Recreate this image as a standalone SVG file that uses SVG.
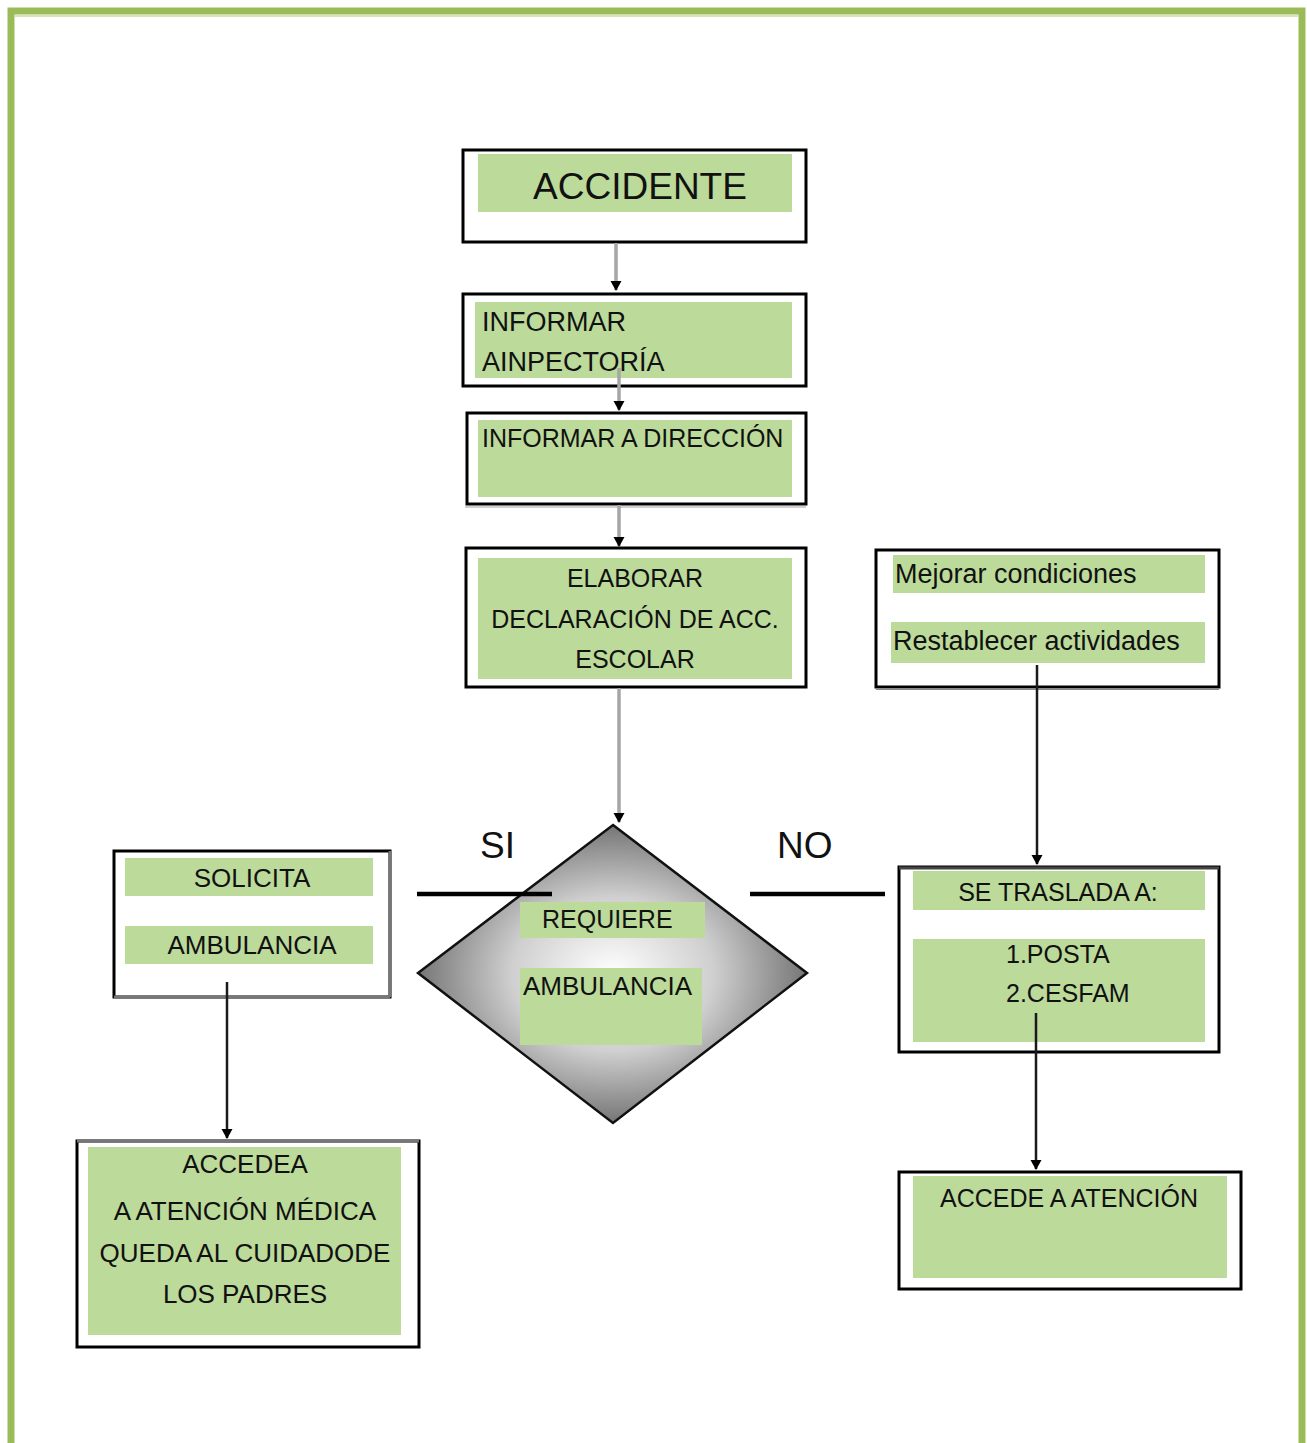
<svg xmlns="http://www.w3.org/2000/svg" width="1307" height="1443" viewBox="0 0 1307 1443">
<style>
.box{fill:#fff;stroke:#000;stroke-width:3}
.g{fill:#bcda9a}
.t{font-family:"Liberation Sans",Arial,sans-serif;fill:#111}
.c{text-anchor:middle}
.gray{stroke:#a6a6a6;stroke-width:3.5;fill:none}
.blk{stroke:#1a1a1a;stroke-width:2.5;fill:none}
.bar{stroke:#000;stroke-width:4.5}
</style>
<defs>
<marker id="ah" markerUnits="userSpaceOnUse" markerWidth="10" markerHeight="12" refX="9" refY="6" orient="auto" viewBox="0 0 10 12">
<path d="M0,0.5 L10,6 L0,11.5 Z" fill="#000"/>
</marker>
<radialGradient id="dg" cx="50%" cy="50%" r="52%">
<stop offset="0" stop-color="#ffffff"/>
<stop offset="0.5" stop-color="#cfcfcf"/>
<stop offset="1" stop-color="#6e6e6e"/>
</radialGradient>
</defs>
<rect width="1307" height="1443" fill="#fff"/>
<path d="M11,1443 V11 H1302 V1443" fill="none" stroke="#9bbb59" stroke-width="7"/>
<line x1="15" y1="16" x2="1298" y2="16" stroke="#c6dba0" stroke-width="1.5"/>

<g id="accidente">
<rect class="box" x="463" y="150" width="343" height="92"/>
<rect class="g" x="478" y="154" width="314" height="58"/>
<text class="t c" x="640" y="199" font-size="37">ACCIDENTE</text>
</g>

<g id="informar-inspectoria">
<rect class="box" x="463" y="294" width="343" height="92"/>
<rect class="g" x="475" y="302" width="317" height="76"/>
<text class="t" x="482" y="331" font-size="27">INFORMAR</text>
<text class="t" x="482" y="371" font-size="27">AINPECTORÍA</text>
</g>

<g id="informar-direccion">
<rect class="box" x="467" y="413" width="339" height="91"/>
<line x1="465" y1="507" x2="806" y2="507" stroke="#d0d0d0" stroke-width="2"/>
<rect class="g" x="478" y="420" width="314" height="77"/>
<text class="t" x="482" y="447" font-size="25">INFORMAR A DIRECCIÓN</text>
</g>

<g id="elaborar">
<rect class="box" x="466" y="548" width="340" height="139"/>
<rect class="g" x="478" y="558" width="314" height="121"/>
<text class="t c" x="635" y="587" font-size="25">ELABORAR</text>
<text class="t c" x="635" y="628" font-size="25">DECLARACIÓN DE ACC.</text>
<text class="t c" x="635" y="668" font-size="25">ESCOLAR</text>
</g>

<g id="mejorar">
<rect class="box" x="876" y="550" width="343" height="137"/>
<line x1="876" y1="689" x2="1219" y2="689" stroke="#888" stroke-width="2"/>
<rect class="g" x="893" y="555" width="312" height="38"/>
<text class="t" x="895" y="583" font-size="27">Mejorar condiciones</text>
<rect class="g" x="891" y="622" width="314" height="41"/>
<text class="t" x="893" y="650" font-size="27">Restablecer actividades</text>
</g>

<g id="requiere">
<polygon points="613,825 807,973 613,1123 418,973" fill="url(#dg)" stroke="#111" stroke-width="2.5"/>
<rect class="g" x="520" y="902" width="185" height="36"/>
<text class="t" x="542" y="928" font-size="25">REQUIERE</text>
<rect class="g" x="520" y="968" width="182" height="77"/>
<text class="t" x="523" y="995" font-size="26">AMBULANCIA</text>
</g>

<g id="solicita">
<rect class="box" x="114" y="851" width="276" height="146"/>
<line x1="390" y1="851" x2="390" y2="997" stroke="#777" stroke-width="3"/>
<line x1="114" y1="997" x2="390" y2="997" stroke="#777" stroke-width="3"/>
<rect class="g" x="125" y="858" width="248" height="38"/>
<text class="t c" x="252" y="887" font-size="26">SOLICITA</text>
<rect class="g" x="125" y="926" width="248" height="38"/>
<text class="t c" x="252" y="954" font-size="26">AMBULANCIA</text>
</g>

<g id="se-traslada">
<rect class="box" x="899" y="867" width="320" height="185"/>
<line x1="899" y1="868" x2="1219" y2="868" stroke="#444" stroke-width="3"/>
<rect class="g" x="913" y="871" width="292" height="39"/>
<text class="t c" x="1058" y="901" font-size="25">SE TRASLADA A:</text>
<rect class="g" x="913" y="939" width="292" height="103"/>
<text class="t" x="1006" y="963" font-size="25">1.POSTA</text>
<text class="t" x="1006" y="1002" font-size="25">2.CESFAM</text>
</g>

<g id="accede-medica">
<rect class="box" x="77" y="1141" width="342" height="206"/>
<line x1="77" y1="1141" x2="419" y2="1141" stroke="#777" stroke-width="3"/>
<rect class="g" x="88" y="1147" width="313" height="188"/>
<text class="t c" x="245" y="1173" font-size="26">ACCEDEA</text>
<text class="t c" x="245" y="1220" font-size="26">A ATENCIÓN MÉDICA</text>
<text class="t c" x="245" y="1262" font-size="26">QUEDA AL CUIDADODE</text>
<text class="t c" x="245" y="1303" font-size="26">LOS PADRES</text>
</g>

<g id="accede-atencion">
<rect class="box" x="899" y="1172" width="342" height="117"/>
<rect class="g" x="913" y="1176" width="314" height="102"/>
<text class="t c" x="1069" y="1207" font-size="25">ACCEDE A ATENCIÓN</text>
</g>

<g id="connectors">
<line class="gray" x1="616" y1="243" x2="616" y2="290" marker-end="url(#ah)"/>
<line class="gray" x1="619" y1="368" x2="619" y2="410" marker-end="url(#ah)"/>
<line class="gray" x1="619" y1="505" x2="619" y2="546" marker-end="url(#ah)"/>
<line class="gray" x1="619" y1="688" x2="619" y2="822" marker-end="url(#ah)"/>
<line class="bar" x1="417" y1="894" x2="552" y2="894"/>
<line class="bar" x1="750" y1="894" x2="885" y2="894"/>
<line class="blk" x1="227" y1="982" x2="227" y2="1138" marker-end="url(#ah)"/>
<line class="blk" x1="1037" y1="665" x2="1037" y2="864" marker-end="url(#ah)"/>
<line class="blk" x1="1036" y1="1013" x2="1036" y2="1169" marker-end="url(#ah)"/>
</g>
<text class="t" x="480" y="858" font-size="37">SI</text>
<text class="t" x="777" y="858" font-size="37">NO</text>
</svg>
